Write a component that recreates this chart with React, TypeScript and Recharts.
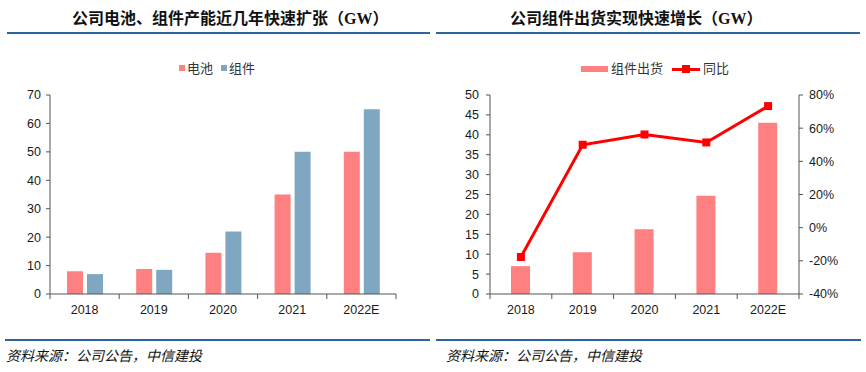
import React from "react";
import { BarChart, ComposedChart, Bar, Line, XAxis, YAxis } from "recharts";

const YEARS = ["2018", "2019", "2020", "2021", "2022E"];
const CELL_GW = [8, 8.8, 14.5, 35, 50];
const MODULE_GW = [7, 8.5, 22, 50, 65];
const SHIP_GW = [7, 10.5, 16.3, 24.7, 43];
const SHIP_YOY = [-0.177, 0.5, 0.562, 0.514, 0.733];

const LEFT_TICKS = [0, 10, 20, 30, 40, 50, 60, 70];
const SHIP_TICKS = [0, 5, 10, 15, 20, 25, 30, 35, 40, 45, 50];
const YOY_TICKS = [-0.4, -0.2, 0, 0.2, 0.4, 0.6, 0.8];

const capacityData = YEARS.map((y, i) => ({ year: y, cell: CELL_GW[i], module: MODULE_GW[i] }));
const shipData = YEARS.map((y, i) => ({ year: y, ship: SHIP_GW[i], yoy: SHIP_YOY[i] }));

const PINK = "#ff8080";
const BLUE = "#7fa7c1";
const RED = "#ff0000";
const AXIS = "#555";
const TXT = "#1a1a1a";
const RULE = "#2c66a0";
const NUM_FONT = "'Liberation Sans', Arial, sans-serif";
const CJK_FONT = "'Noto Sans CJK SC', sans-serif";

// category label plus tick marks on the band edges (Excel style)
function edgeTick(half: number, count: number) {
  return (props: any) => {
    const { x, y, payload, index } = props;
    return (
      <g>
        <line x1={x - half} x2={x - half} y1={y} y2={y + 5} stroke={AXIS} />
        {index === count - 1 && (
          <line x1={x + half} x2={x + half} y1={y} y2={y + 5} stroke={AXIS} />
        )}
        <text x={x} y={y + 20} textAnchor="middle" fontSize={12.5} fill={TXT} fontFamily={NUM_FONT}>
          {payload.value}
        </text>
      </g>
    );
  };
}

const SquareDot = (props: any) => {
  const { cx, cy } = props;
  if (cx == null || cy == null) return null;
  return <rect x={cx - 4} y={cy - 4} width={8} height={8} fill={RED} />;
};

const titleStyle: React.CSSProperties = {
  position: "absolute",
  top: 8,
  fontFamily: "'Liberation Serif', 'Noto Sans CJK SC', serif",
  fontWeight: 700,
  fontSize: 16,
  color: "#111",
  whiteSpace: "nowrap",
  lineHeight: "22px",
};

const legendText: React.CSSProperties = {
  position: "absolute",
  top: 59,
  fontFamily: CJK_FONT,
  fontSize: 13,
  color: "#333",
  lineHeight: "18px",
  whiteSpace: "nowrap",
};

const footStyle: React.CSSProperties = {
  position: "absolute",
  top: 345,
  fontFamily: CJK_FONT,
  fontStyle: "italic",
  fontSize: 14,
  color: "#111",
  lineHeight: "20px",
  whiteSpace: "nowrap",
};

function rule(left: number, top: number, width: number) {
  return (
    <div style={{ position: "absolute", left, top, width, height: 2, background: RULE }} />
  );
}

export default function App() {
  const tickStyle = { fontSize: 12.5, fill: TXT, fontFamily: NUM_FONT };
  return (
    <div style={{ position: "absolute", left: 0, top: 0, width: 866, height: 372, background: "#fff", overflow: "hidden" }}>
      <div style={{ ...titleStyle, left: 72 }}>公司电池、组件产能近几年快速扩张（GW）</div>
      <div style={{ ...titleStyle, left: 510 }}>公司组件出货实现快速增长（GW）</div>
      {rule(7, 32, 423)}
      {rule(436, 32, 424)}

      {/* left legend */}
      <div style={{ position: "absolute", left: 179, top: 65, width: 6, height: 6, background: PINK }} />
      <div style={{ ...legendText, left: 187 }}>电池</div>
      <div style={{ position: "absolute", left: 221, top: 65, width: 6, height: 6, background: BLUE }} />
      <div style={{ ...legendText, left: 229 }}>组件</div>

      {/* right legend */}
      <div style={{ position: "absolute", left: 581, top: 66, width: 27, height: 6, background: PINK }} />
      <div style={{ ...legendText, left: 611 }}>组件出货</div>
      <div style={{ position: "absolute", left: 672, top: 68, width: 28, height: 3, background: RED }} />
      <div style={{ position: "absolute", left: 682, top: 65, width: 8, height: 8, background: RED }} />
      <div style={{ ...legendText, left: 703 }}>同比</div>

      <div style={{ position: "absolute", left: 0, top: 0 }}>
        <BarChart
          width={430}
          height={320}
          data={capacityData}
          margin={{ top: 95, right: 34, bottom: 0, left: 0 }}
          barSize={16}
          barGap={4}
        >
          <XAxis
            dataKey="year"
            height={26}
            axisLine={{ stroke: AXIS }}
            tickLine={false}
            tickSize={0}
            tickMargin={0}
            interval={0}
            tick={edgeTick(34.6, YEARS.length)}
          />
          <YAxis
            width={50}
            domain={[0, 70]}
            ticks={LEFT_TICKS}
            interval={0}
            axisLine={{ stroke: AXIS }}
            tickLine={{ stroke: AXIS }}
            tickSize={4}
            tickMargin={5}
            tick={tickStyle}
          />
          <Bar dataKey="cell" name="电池" fill={PINK} isAnimationActive={false} />
          <Bar dataKey="module" name="组件" fill={BLUE} isAnimationActive={false} />
        </BarChart>
      </div>

      <div style={{ position: "absolute", left: 436, top: 0 }}>
        <ComposedChart
          width={430}
          height={320}
          data={shipData}
          margin={{ top: 95, right: 0, bottom: 0, left: 0 }}
          barSize={19}
        >
          <XAxis
            dataKey="year"
            height={26}
            axisLine={{ stroke: AXIS }}
            tickLine={false}
            tickSize={0}
            tickMargin={0}
            interval={0}
            tick={edgeTick(30.9, YEARS.length)}
          />
          <YAxis
            yAxisId="left"
            width={54}
            domain={[0, 50]}
            ticks={SHIP_TICKS}
            interval={0}
            axisLine={{ stroke: AXIS }}
            tickLine={{ stroke: AXIS }}
            tickSize={4}
            tickMargin={7}
            tick={tickStyle}
          />
          <YAxis
            yAxisId="right"
            orientation="right"
            width={67}
            domain={[-0.4, 0.8]}
            ticks={YOY_TICKS}
            interval={0}
            axisLine={{ stroke: AXIS }}
            tickLine={{ stroke: AXIS }}
            tickSize={4}
            tickMargin={6}
            tick={tickStyle}
            tickFormatter={(v: number) => `${Math.round(v * 100)}%`}
          />
          <Bar yAxisId="left" dataKey="ship" name="组件出货" fill={PINK} isAnimationActive={false} />
          <Line
            yAxisId="right"
            dataKey="yoy"
            name="同比"
            stroke={RED}
            strokeWidth={3}
            dot={<SquareDot />}
            activeDot={false}
            isAnimationActive={false}
          />
        </ComposedChart>
      </div>

      {rule(5, 339, 425)}
      {rule(436, 339, 425)}
      <div style={{ ...footStyle, left: 6 }}>资料来源：公司公告，中信建投</div>
      <div style={{ ...footStyle, left: 446 }}>资料来源：公司公告，中信建投</div>
    </div>
  );
}
